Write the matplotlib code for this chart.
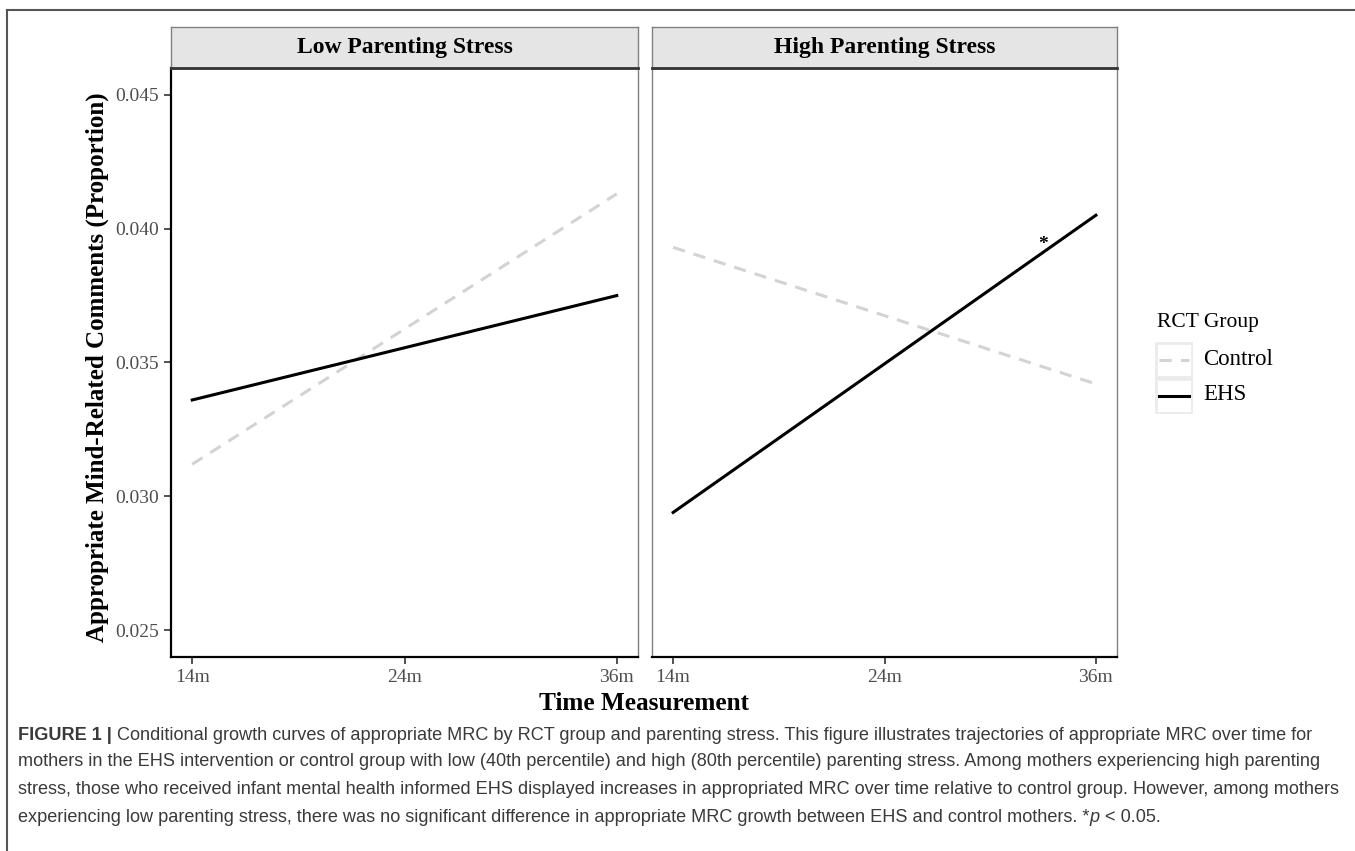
import matplotlib
matplotlib.use("Agg")
import matplotlib.pyplot as plt
from matplotlib.patches import Rectangle
from matplotlib.lines import Line2D

# data
time_labels = ["14m", "24m", "36m"]
time_pos = [0, 1, 2]
panels = ["Low Parenting Stress", "High Parenting Stress"]
# predicted appropriate MRC at 14m and 36m
control_low = [0.0312, 0.0413]
ehs_low = [0.0336, 0.0375]
control_high = [0.0393, 0.0342]
ehs_high = [0.0294, 0.0405]
y_ticks = [0.025, 0.030, 0.035, 0.040, 0.045]
star_pos = (1.75, 0.0394)

W, H = 1355, 851
SERIF = "Liberation Serif"
SANS = "Liberation Sans"


def box(x0, y0, x1, y1):
    return [x0 / W, 1 - y1 / H, (x1 - x0) / W, (y1 - y0) / H]


fig = plt.figure(figsize=(W / 100, H / 100), dpi=100)

series = [(control_low, ehs_low), (control_high, ehs_high)]
lefts = [(171, 638), (652, 1117)]

for i, (title, (ctrl, ehs), (x0, x1)) in enumerate(zip(panels, series, lefts)):
    ax = fig.add_axes(box(x0, 68, x1, 657))
    ax.plot([time_pos[0], time_pos[-1]], ctrl, color="#d3d3d3", lw=2.2,
            ls=(0, (4, 3)), solid_capstyle="butt")
    ax.plot([time_pos[0], time_pos[-1]], ehs, color="black", lw=2.2)
    ax.set_xlim(-0.1, 2.1)
    ax.set_ylim(0.024, 0.046)
    ax.set_xticks(time_pos)
    ax.set_xticklabels(time_labels, family=SERIF, fontsize=14, color="#4d4d4d")
    if i == 0:
        ax.set_yticks(y_ticks)
        ax.set_yticklabels([f"{v:.3f}" for v in y_ticks], family=SERIF,
                           fontsize=14, color="#4d4d4d")
        ax.tick_params(axis="y", length=5, width=1.2, color="#333333")
        ax.spines["left"].set_color("black")
        ax.spines["left"].set_linewidth(1.6)
    else:
        ax.set_yticks([])
        ax.spines["left"].set_color("#808080")
        ax.spines["left"].set_linewidth(1.0)
        ax.text(*star_pos, "*", ha="center", va="center", family=SERIF,
                fontsize=14, fontweight="bold")
    ax.tick_params(axis="x", length=5, width=1.2, color="#333333", pad=4)
    ax.spines["bottom"].set_color("black")
    ax.spines["bottom"].set_linewidth(1.6)
    for s in ("top", "right"):
        ax.spines[s].set_color("#808080")
        ax.spines[s].set_linewidth(1.0)

    sx = fig.add_axes(box(x0, 27, x1, 68))
    sx.set_facecolor("#e5e5e5")
    sx.set_xticks([])
    sx.set_yticks([])
    for s in ("top", "left", "right"):
        sx.spines[s].set_color("#808080")
        sx.spines[s].set_linewidth(1.0)
    sx.spines["bottom"].set_color("#333333")
    sx.spines["bottom"].set_linewidth(2.0)
    sx.text(0.5, 0.5, title, transform=sx.transAxes, ha="center", va="center",
            family=SERIF, fontsize=17, fontweight="bold")

# axis titles
fig.text(97 / W, 1 - 367 / H, "Appropriate Mind-Related Comments (Proportion)",
         rotation=90, ha="center", va="center", family=SERIF, fontsize=18,
         fontweight="bold")
fig.text(644 / W, 1 - 704 / H, "Time Measurement", ha="center", va="center",
         family=SERIF, fontsize=18.2, fontweight="bold")

# legend
fig.text(1157 / W, 1 - 322 / H, "RCT Group", ha="left", va="center",
         family=SERIF, fontsize=15.5)
lg = fig.add_axes(box(1155, 342, 1193, 414))
lg.set_xlim(0, 1)
lg.set_ylim(0, 2)
lg.axis("off")
for k, (lbl, col, ls) in enumerate([("Control", "#d3d3d3", (0, (4, 3))),
                                     ("EHS", "black", "-")]):
    yb = 1 - k
    lg.add_patch(Rectangle((0.02, yb + 0.02), 0.96, 0.96, facecolor="white",
                           edgecolor="#ebebeb", lw=2))
    lg.add_line(Line2D([0.1, 0.9], [yb + 0.5, yb + 0.5], color=col, lw=2.2, ls=ls))
    fig.text(1203 / W, 1 - (360 + 35 * k) / H, lbl, ha="left", va="center",
             family=SERIF, fontsize=16.5)

# frame of the page
fig.add_artist(Line2D([7 / W, 7 / W], [0, 1 - 10 / H], color="#555555", lw=1.5))
fig.add_artist(Line2D([7 / W, 1], [1 - 10 / H, 1 - 10 / H], color="#555555", lw=1.5))

# caption
cap_col = "#3a3a3a"
cap_size = 13.1
lines = [
    "Conditional growth curves of appropriate MRC by RCT group and parenting stress. This figure illustrates trajectories of appropriate MRC over time for",
    "mothers in the EHS intervention or control group with low (40th percentile) and high (80th percentile) parenting stress. Among mothers experiencing high parenting",
    "stress, those who received infant mental health informed EHS displayed increases in appropriated MRC over time relative to control group. However, among mothers",
    "experiencing low parenting stress, there was no significant difference in appropriate MRC growth between EHS and control mothers. *",
]
ys = [735, 762, 790, 818]
renderer = fig.canvas.get_renderer()
x_start = 18 / W

t = fig.text(x_start, 1 - ys[0] / H, "FIGURE 1 | ", ha="left", va="center",
             family=SANS, fontsize=cap_size, fontweight="bold", color=cap_col)
w = t.get_window_extent(renderer).width / W
fig.text(x_start + w, 1 - ys[0] / H, lines[0], ha="left", va="center",
         family=SANS, fontsize=cap_size, color=cap_col)
for ln, yy in zip(lines[1:3], ys[1:3]):
    fig.text(x_start, 1 - yy / H, ln, ha="left", va="center", family=SANS,
             fontsize=cap_size, color=cap_col)
t = fig.text(x_start, 1 - ys[3] / H, lines[3], ha="left", va="center",
             family=SANS, fontsize=cap_size, color=cap_col)
x = x_start + t.get_window_extent(renderer).width / W
t = fig.text(x, 1 - ys[3] / H, "p", ha="left", va="center", family=SANS,
             fontsize=cap_size, style="italic", color=cap_col)
x += t.get_window_extent(renderer).width / W
fig.text(x, 1 - ys[3] / H, " < 0.05.", ha="left", va="center", family=SANS,
         fontsize=cap_size, color=cap_col)

fig.savefig("out.png", dpi=100)
